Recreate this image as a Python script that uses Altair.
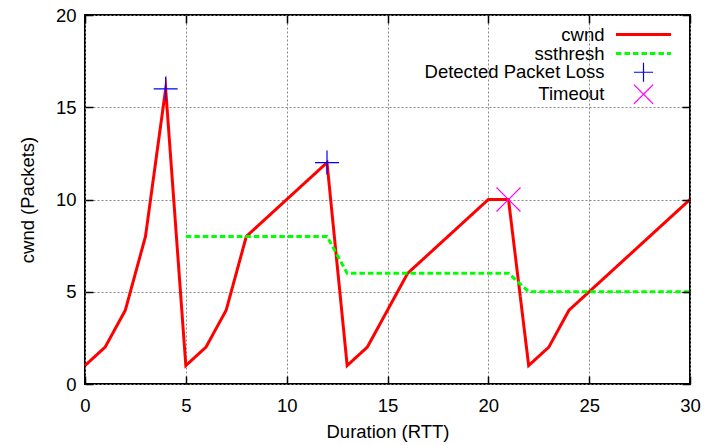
import altair as alt
import pandas as pd

# ---- data ----
rtt = list(range(31))
cwnd = [1, 2, 4, 8, 16, 1, 2, 4, 8, 9, 10, 11, 12, 1, 2, 4, 6, 7, 8, 9, 10, 10, 1, 2, 4, 5, 6, 7, 8, 9, 10]
ss_rtt = [5, 12, 13, 21, 22, 30]
ssthresh = [8, 8, 6, 6, 5, 5]
loss_rtt = [4, 12]
loss_val = [16, 12]
timeout_rtt = [21]
timeout_val = [10]

series = ["cwnd", "ssthresh", "Detected Packet Loss", "Timeout"]
colors = ["#ff0000", "#00ff00", "#0000ff", "#ff00ff"]
x_ticks = [0, 5, 10, 15, 20, 25, 30]
y_ticks = [0, 5, 10, 15, 20]

cwnd_df = pd.DataFrame({"rtt": rtt, "value": cwnd, "series": "cwnd"})
ss_df = pd.DataFrame({"rtt": ss_rtt, "value": ssthresh, "series": "ssthresh"})
pts_df = pd.concat([
    pd.DataFrame({"rtt": loss_rtt, "value": loss_val, "series": "Detected Packet Loss"}),
    pd.DataFrame({"rtt": timeout_rtt, "value": timeout_val, "series": "Timeout"}),
])

FONT = "Liberation Sans"
FS = 18.5

color_scale = alt.Scale(domain=series, range=colors)
dash_scale = alt.Scale(domain=series, range=[[1, 0], [5.5, 3], [1, 0], [1, 0]])
width_scale = alt.Scale(domain=series, range=[3, 3, 1.2, 1.2], type="ordinal")
shape_scale = alt.Scale(domain=series, range=[
    "M-3.44,0H3.44",
    "M-3.44,0H3.44",
    "M-1.2,0H1.2M0,-1.2V1.2",
    "M-1.2,-1.2L1.2,1.2M-1.2,1.2L1.2,-1.2",
])

legend = alt.Legend(
    title=None, orient="none", legendX=549, legendY=10, direction="vertical",
    labelAlign="right", labelOffset={"expr": "-48.5"}, labelFont=FONT, labelFontSize=FS,
    labelColor="black", labelLimit=400, labelBaseline="middle",
    symbolSize=256, rowPadding={"expr": "-3"}, padding=0, symbolOpacity=1, symbolOffset=0,
)

x_scale = alt.Scale(domain=[0, 30], nice=False, zero=False)
y_scale = alt.Scale(domain=[0, 20], nice=False)

common = dict(domain=False, labelFont=FONT, labelFontSize=FS, titleFont=FONT,
              titleFontSize=FS, labelColor="black", titleColor="black",
              titleFontWeight="normal")

x_main = alt.Axis(orient="bottom", values=x_ticks, format="d", ticks=False, tickSize=0,
                  labelPadding=12, labelFlush=False, grid=True, gridColor="#888888",
                  gridDash=[2, 2], gridWidth=1, title="Duration (RTT)",
                  titleBaseline="alphabetic", titleY=53, **common)
y_main = alt.Axis(orient="left", values=y_ticks, format="d", ticks=False, tickSize=0,
                  labelPadding=9, grid=True, gridColor="#888888", gridDash=[2, 2],
                  gridWidth=1, title="cwnd (Packets)", titleBaseline="alphabetic",
                  titleX=-52, **common)


def tick_axis(orient, values):
    return alt.Axis(orient=orient, values=values, labels=False, ticks=True, tickSize=8,
                    tickWidth=1.5, tickColor="black", offset={"expr": "-8"}, grid=False,
                    title=None, domain=False, zindex=1)


cwnd_layer = alt.Chart(cwnd_df).mark_line(strokeJoin="miter", strokeMiterLimit=12).encode(
    x=alt.X("rtt:Q", scale=x_scale, axis=x_main),
    y=alt.Y("value:Q", scale=y_scale, axis=y_main),
    color=alt.Color("series:N", scale=color_scale, legend=legend),
    strokeDash=alt.StrokeDash("series:N", scale=dash_scale, legend=legend),
    strokeWidth=alt.StrokeWidth("series:N", scale=width_scale, legend=legend),
)

ss_layer = alt.Chart(ss_df).mark_line(strokeJoin="miter").encode(
    x=alt.X("rtt:Q", scale=x_scale, axis=tick_axis("bottom", x_ticks)),
    y=alt.Y("value:Q", scale=y_scale, axis=tick_axis("left", y_ticks)),
    color=alt.Color("series:N", scale=color_scale, legend=legend),
    strokeDash=alt.StrokeDash("series:N", scale=dash_scale, legend=legend),
    strokeWidth=alt.StrokeWidth("series:N", scale=width_scale, legend=legend),
)

pts_layer = alt.Chart(pts_df).mark_point(size=400, filled=False, opacity=1).encode(
    x=alt.X("rtt:Q", scale=x_scale, axis=tick_axis("top", x_ticks)),
    y=alt.Y("value:Q", scale=y_scale, axis=tick_axis("right", y_ticks)),
    color=alt.Color("series:N", scale=color_scale, legend=legend),
    shape=alt.Shape("series:N", scale=shape_scale, legend=legend),
    strokeWidth=alt.StrokeWidth("series:N", scale=width_scale, legend=legend),
)

chart = alt.layer(cwnd_layer, ss_layer, pts_layer).resolve_axis(
    x="independent", y="independent"
).properties(
    width=605, height=369,
    padding={"left": 85, "top": 15, "right": 14, "bottom": 61},
    autosize=alt.AutoSizeParams(type="none"),
    background="white",
).configure_view(stroke="black", strokeWidth=2)

chart.save("out.html", embed_options={"renderer": "svg", "actions": False})
